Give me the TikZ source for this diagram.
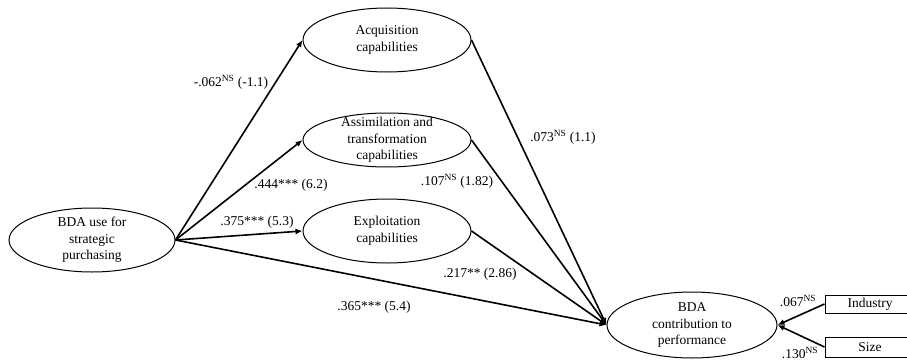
\documentclass[tikz,border=0pt]{standalone}
\usepackage{fontspec}
\setmainfont{Liberation Serif}
\usetikzlibrary{shapes.geometric,arrows.meta}
\newcommand{\ns}{\textsuperscript{NS}}
\begin{document}
\begin{tikzpicture}[x=1pt,y=-1pt,
  every node/.style={font=\fontsize{13.5}{16.5}\selectfont},
  ell/.style={draw,ellipse,line width=1pt,inner sep=0pt,minimum width=168pt,minimum height=64pt},
  txt/.style={align=center,inner sep=0pt},
  boxn/.style={draw,rectangle,line width=1pt,inner sep=0pt,minimum width=100pt},
  lbl/.style={inner sep=0pt},
  arr/.style={line width=1.6pt,-{Latex[length=7pt,width=6pt]}}]
\useasboundingbox (0,0) rectangle (907,361);
\node[ell,minimum width=166pt] (use) at (92,240) {};
\node[txt] (usetxt) at (use) {BDA use for\\strategic\\purchasing};
\node[ell] (acq) at (387,40) {};
\node[txt] (acqtxt) at (acq) {Acquisition\\capabilities};
\node[ell,minimum height=54pt] (assim) at (387,140) {};
\node[txt] (assimtxt) at (assim) {Assimilation and\\transformation\\capabilities};
\node[ell] (expl) at (387,231) {};
\node[txt] (expltxt) at (expl) {Exploitation\\capabilities};
\node[ell,minimum width=170pt,minimum height=66pt] (perf) at (692,325) {};
\node[txt] (perftxt) at (perf) {BDA\\contribution to\\performance};
\node[boxn,minimum height=18pt] (ind) at (875,304) {};
\node[lbl] (indtxt) at (870,304) {Industry};
\node[boxn,minimum height=20pt] (size) at (875,347) {};
\node[lbl] (sizetxt) at (870,347) {Size};
\draw[arr] (use.east) -- (acq.west);
\draw[arr] (use.east) -- (assim.west);
\draw[arr] (use.east) -- (expl.west);
\draw[arr] (use.east) -- (perf.west);
\draw[arr] (acq.east) -- (perf.west);
\draw[arr] (assim.east) -- (perf.west);
\draw[arr] (expl.east) -- (perf.west);
\draw[arr] (ind.west) -- (perf.east);
\draw[arr] (size.west) -- (perf.east);
\node[lbl] (l1) at (231,82) {-.062\ns{} (-1.1)};
\node[lbl] (l2) at (291,185) {.444*** (6.2)};
\node[lbl] (l3) at (257,222) {.375*** (5.3)};
\node[lbl] (l4) at (563,137) {.073\ns{} (1.1)};
\node[lbl] (l5) at (457,181) {.107\ns{} (1.82)};
\node[lbl] (l6) at (480,274) {.217** (2.86)};
\node[lbl] (l7) at (374,307) {.365*** (5.4)};
\node[lbl] (l8) at (798,301) {.067\ns};
\node[lbl] (l9) at (800,353) {.130\ns};
\end{tikzpicture}
\end{document}
